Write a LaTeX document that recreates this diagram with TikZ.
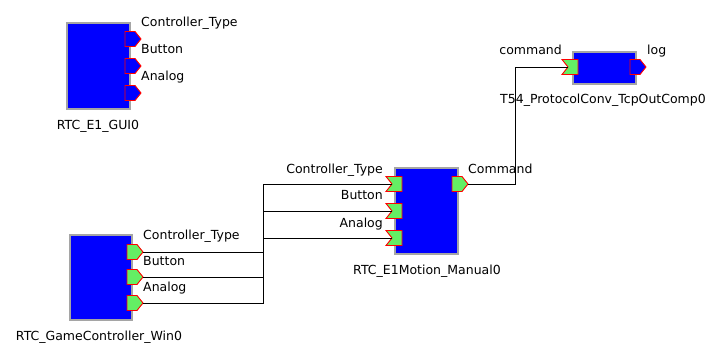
\documentclass[tikz,border=0pt]{standalone}
\usepackage{fontspec}
\setmainfont{DejaVu Sans}
\usetikzlibrary{positioning}
\definecolor{rtcblue}{RGB}{0,0,255}
\definecolor{rtcgray}{RGB}{165,165,165}
\definecolor{portgreen}{RGB}{100,238,100}
\definecolor{portred}{RGB}{255,0,0}
\tikzset{
    rtc/.style={draw=rtcgray, line width=1.2pt, fill=rtcblue, inner sep=0pt},
    portlabel/.style={font=\fontsize{12.5}{12.5}\selectfont, inner sep=0pt},
    wire/.style={black, line width=0.9pt},
    pics/outport/.style={code={
        \draw[portred, line width=0.9pt, fill=#1] (0,-7.5) -- (10,-7.5) -- (16,0) -- (10,7.5) -- (0,7.5) -- cycle;
        \coordinate (-tip) at (16,0);
    }},
    pics/inport/.style={code={
        \draw[portred, line width=0.9pt, fill=portgreen] (0,-7.5) -- (16,-7.5) -- (16,7.5) -- (0,7.5) -- (6,0) -- cycle;
        \coordinate (-in) at (6,0);
    }}
}
\begin{document}
\begin{tikzpicture}[x=1pt, y=-1pt]
                \useasboundingbox (0,0) rectangle (716,345);
                % components
                \node[rtc, minimum width=63pt, minimum height=86pt] (gui) at (98.5,66) {};
                \node[rtc, minimum width=62pt, minimum height=85pt] (gc) at (101,277.5) {};
                \node[rtc, minimum width=63pt, minimum height=86pt] (man) at (426.5,211) {};
                \node[rtc, minimum width=63pt, minimum height=32pt] (tcp) at (604.5,68) {};

                \node[portlabel, anchor=base] (gui-name) at (98,130) {RTC\_E1\_GUI0};
                \node[portlabel, anchor=base] (gc-name) at (99,340) {RTC\_GameController\_Win0};
                \node[portlabel, anchor=base] (man-name) at (427,274) {RTC\_E1Motion\_Manual0};
                \node[portlabel, anchor=base] (tcp-name) at (603,104) {T54\_ProtocolConv\_TcpOutComp0};

                % bends of the wires
                \coordinate (bus) at (263,0);
                \coordinate (cmdbus) at (515,0);

                \foreach \n/\y/\t in {1/39/Controller\_Type, 2/66/Button, 3/93/Analog} {
                        \pic (guip\n) at (125,\y) {outport=rtcblue};
                        \node[portlabel, anchor=base west] (guil\n) at (141,\y-12) {\t};
                    }
                \foreach \n/\y/\t in {1/252/Controller\_Type, 2/277/Button, 3/303/Analog} {
                        \pic (gcp\n) at (127,\y) {outport=portgreen};
                        \node[portlabel, anchor=base west] (gcl\n) at (143,\y-12) {\t};
                    }
                \foreach \n/\y/\t in {1/184/Controller\_Type, 2/211/Button, 3/238/Analog} {
                        \pic (manp\n) at (386,\y) {inport};
                        \node[portlabel, anchor=base east] (manl\n) at (383,\y-11) {\t};
                    }
                \pic (mano) at (452,184) {outport=portgreen};
                \node[portlabel, anchor=base west] (manol) at (468,173) {Command};

                \pic (tcpin) at (562,67) {inport};
                \node[portlabel, anchor=base east] (tcpinl) at (562,55) {command};
                \pic (tcpout) at (630,67) {outport=rtcblue};
                \node[portlabel, anchor=base west] (tcpoutl) at (647,55) {log};

                % wires
                \foreach \n in {1,2,3} {
                        \draw[wire] (gcp\n-tip) -- (gcp\n-tip -| bus) |- (manp\n-in);
                    }
                \draw[wire] (mano-tip) -- (mano-tip -| cmdbus) |- (tcpin-in);
                % \draw[wire] (guip1-tip) -- (gcp1-tip);
            \end{tikzpicture}
\end{document}
